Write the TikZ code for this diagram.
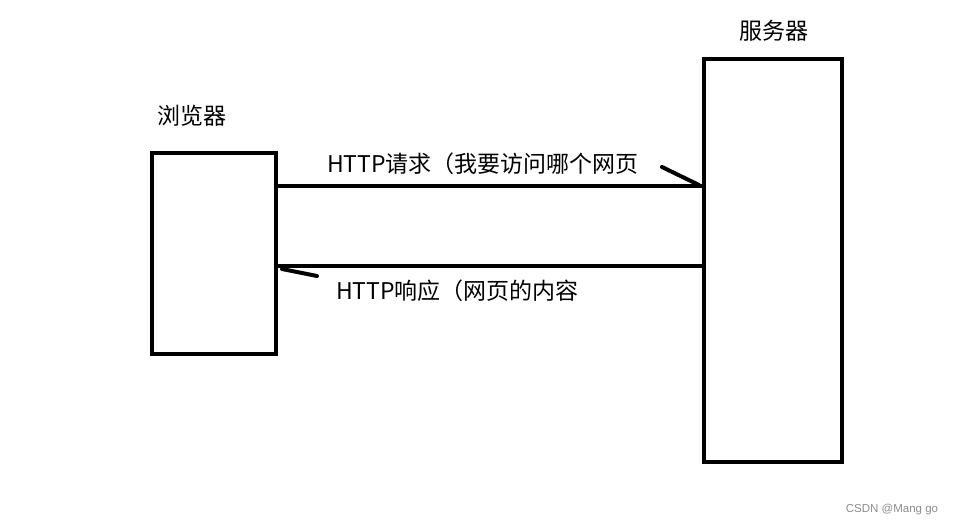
\documentclass[tikz,border=0pt]{standalone}
\usepackage{fontspec}
\usetikzlibrary{calc}
\setmainfont{Noto Sans CJK SC}
\newfontfamily\wmfont{Liberation Sans}
\begin{document}
\begin{tikzpicture}[x=1pt,y=-1pt,
  box/.style={draw=black,line width=4pt,minimum width=#1,inner sep=0pt},
  conn/.style={draw=black,line width=4pt},
  barb/.style={draw=black,line width=4pt,line cap=round},
  lbl/.style={font=\fontsize{23}{26}\selectfont,inner sep=0pt,anchor=center},
  wm/.style={font=\wmfont\fontsize{11.5}{13}\selectfont,text=black!45,inner sep=0pt}]
\useasboundingbox[fill=white] (0,0) rectangle (955,527);
\node[box=124pt,minimum height=201pt] (browser) at (214,253.5) {};
\node[box=138pt,minimum height=403pt] (server) at (773,260.5) {};
\coordinate (reqy) at (0,186);
\coordinate (resy) at (0,266);
\coordinate (reqtail) at (662,167);
\coordinate (restail) at (317,276);
\draw[conn] (browser.east |- reqy) -- (server.west |- reqy);
\draw[conn] (server.west |- resy) -- (browser.east |- resy);
\draw[barb] (reqtail) -- ($(server.west |- reqy)+(-3,-1)$);
\draw[barb] (restail) -- ($(browser.east |- resy)+(4,3)$);
\node[lbl] (lb) at (191.5,116) {浏览器};
\node[lbl] (ls) at (773.5,31) {服务器};
\node[lbl] (lreq) at (483,164) {HTTP请求（我要访问哪个网页};
\node[lbl] (lres) at (457.5,291) {HTTP响应（网页的内容};
\node[wm] (wmark) at (892,510) {CSDN @Mang go};
\end{tikzpicture}
\end{document}
